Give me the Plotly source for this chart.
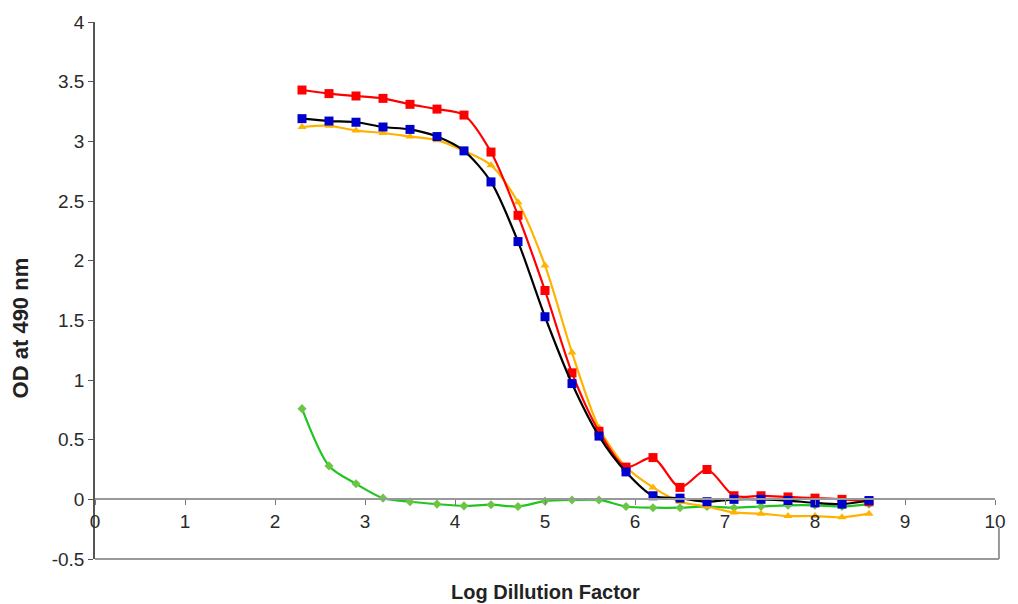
import plotly.graph_objects as go

log_dilution = [2.3, 2.6, 2.9, 3.2, 3.5, 3.8, 4.1, 4.4, 4.7, 5.0, 5.3, 5.6,
                5.9, 6.2, 6.5, 6.8, 7.1, 7.4, 7.7, 8.0, 8.3, 8.6]

red_series = [3.43, 3.40, 3.38, 3.36, 3.31, 3.27, 3.22, 2.91, 2.38, 1.75, 1.06, 0.57,
              0.27, 0.35, 0.10, 0.25, 0.03, 0.03, 0.02, 0.01, 0.00, -0.02]
blue_series = [3.19, 3.17, 3.16, 3.12, 3.10, 3.04, 2.92, 2.66, 2.16, 1.53, 0.97, 0.53,
               0.23, 0.03, 0.01, -0.02, 0.00, 0.00, -0.01, -0.03, -0.04, -0.01]
orange_series = [3.12, 3.13, 3.09, 3.07, 3.04, 3.01, 2.92, 2.80, 2.49, 1.96, 1.23, 0.60,
                 0.27, 0.10, -0.02, -0.06, -0.11, -0.12, -0.14, -0.14, -0.15, -0.12]
green_series = [0.76, 0.28, 0.13, 0.01, -0.02, -0.04, -0.055, -0.045, -0.06, -0.015, -0.005, -0.005,
                -0.06, -0.07, -0.07, -0.06, -0.07, -0.06, -0.05, -0.05, -0.06, -0.04]

x_ticks = list(range(0, 11))
y_ticks = [-0.5, 0, 0.5, 1, 1.5, 2, 2.5, 3, 3.5, 4]
y_tick_labels = ["-0.5", "0", "0.5", "1", "1.5", "2", "2.5", "3", "3.5", "4"]

fig = go.Figure()

def add(y, line_color, marker_color, symbol, size):
    fig.add_trace(go.Scatter(
        x=log_dilution, y=y, mode="lines+markers",
        line=dict(color=line_color, width=2.2, shape="spline", smoothing=0.8),
        marker=dict(color=marker_color, symbol=symbol, size=size),
        showlegend=False, hoverinfo="x+y"))

add(green_series, "#22C422", "#6CC644", "diamond", 7)
add(orange_series, "#FFB300", "#FFB300", "triangle-up", 8)
add(red_series, "#FF0000", "#FF0000", "square", 9)
add(blue_series, "#000000", "#0000CC", "square", 9)

fig.update_layout(
    width=1018, height=604,
    margin=dict(l=95, r=18, t=20, b=45),
    paper_bgcolor="white", plot_bgcolor="white",
    font=dict(family="Liberation Sans, Arial, sans-serif", size=19, color="#2a2a2a"),
    xaxis=dict(range=[0, 10], tickvals=x_ticks, showgrid=False, zeroline=False,
               showline=True, linecolor="#999999", linewidth=2,
               ticks="outside", ticklen=5, tickcolor="#777777",
               anchor="free", position=0.5 / 4.5),
    yaxis=dict(range=[-0.5, 4], tickvals=y_ticks, ticktext=y_tick_labels,
               showgrid=False, zeroline=False, showline=True,
               linecolor="#555555", linewidth=1.5, ticks="outside", ticklen=5,
               tickcolor="#555555"),
    shapes=[
        dict(type="line", xref="paper", yref="paper", x0=0, x1=1.0044, y0=0, y1=0,
             line=dict(color="#999999", width=2)),
        dict(type="line", xref="paper", yref="paper", x0=1.0044, x1=1.0044, y0=0, y1=0.06,
             line=dict(color="#999999", width=2)),
    ],
    annotations=[
        dict(text="<b>Log Dillution Factor</b>", x=0.5, y=-0.0615, xref="paper", yref="paper",
             showarrow=False, font=dict(size=20, color="#222222"), xanchor="center", yanchor="middle"),
        dict(text="<b>OD at 490 nm</b>", x=-0.083, y=0.43, xref="paper", yref="paper",
             showarrow=False, textangle=-90, font=dict(size=22, color="#222222"),
             xanchor="center", yanchor="middle"),
    ],
)

fig.write_html("out.html")
